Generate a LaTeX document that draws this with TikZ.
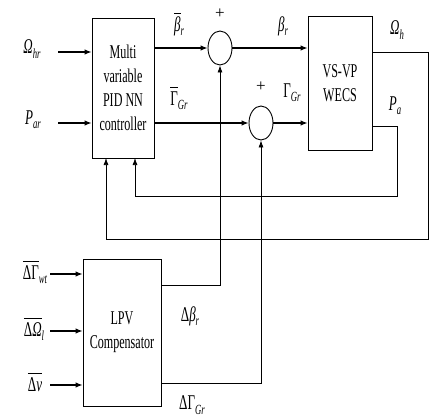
\documentclass[tikz,border=0pt]{standalone}
\usepackage{fontspec}
\setmainfont{Liberation Serif}[FakeStretch=0.62]
\newfontfamily\plusfont{Liberation Serif}
\usetikzlibrary{arrows.meta,shapes.geometric,calc}
\newcommand{\sbs}[1]{\raisebox{-0.45ex}{\fontsize{14}{14}\selectfont\itshape #1}}
\newcommand{\ob}[1]{$\overline{\hbox{\rule{0pt}{0.82em}#1}}$}
\begin{document}
\begin{tikzpicture}[x=1pt,y=-1pt,
  blk/.style={draw,line width=0.9pt,inner sep=0pt,align=center,font=\fontsize{19.5}{24}\selectfont},
  sumnode/.style={draw,line width=0.9pt,ellipse,minimum width=24pt,minimum height=34pt,inner sep=0pt},
  sig/.style={line width=1.1pt,-{Latex[length=7pt,width=5.5pt]}},
  fb/.style={line width=0.75pt,-{Latex[length=7pt,width=5pt]}},
  lab/.style={inner sep=0pt,font=\fontsize{21}{21}\selectfont\itshape},
  plus/.style={inner sep=0pt,font=\plusfont\fontsize{17}{17}\selectfont}]
\useasboundingbox (0,0) rectangle (437,420);
% blocks
\node[blk,minimum width=62pt,minimum height=140pt] (ctrl) at (123,88) {Multi\\variable\\PID NN\\controller};
\node[blk,minimum width=64pt,minimum height=134pt] (wecs) at (340,83) {VS-VP\\WECS};
\node[blk,minimum width=78pt,minimum height=147pt] (lpv) at (122,332.5) {LPV\\Compensator};
\node[sumnode] (s1) at (220,48) {};
\node[sumnode] (s2) at (261,123) {};
% coordinates
\coordinate (iom) at (58,52);
\coordinate (ipa) at (58,123);
\coordinate (igw) at (50,274);
\coordinate (iol) at (50,331);
\coordinate (iv) at (50,385);
\coordinate (c1) at (428,52);
\coordinate (c2) at (428,239);
\coordinate (c3) at (397,126);
\coordinate (c4) at (397,196);
\coordinate (f1) at (106,158);
\coordinate (f2) at (135,158);
\coordinate (d1) at (0,285);
\coordinate (d2) at (0,383);
% inputs
\draw[sig] (iom) -- (iom -| ctrl.west);
\draw[sig] (ipa) -- (ipa -| ctrl.west);
\draw[sig] (igw) -- (igw -| lpv.west);
\draw[sig] (iol) -- (iol -| lpv.west);
\draw[sig] (iv) -- (iv -| lpv.west);
% forward paths
\draw[sig] (s1.west -| ctrl.east) -- (s1.west);
\draw[sig] (s1.east) -- (s1.east -| wecs.west);
\draw[sig] (s2.west -| ctrl.east) -- (s2.west);
\draw[sig] (s2.east) -- (s2.east -| wecs.west);
% feedback
\draw[fb] (c1 -| wecs.east) -- (c1) -- (c2) -- (f1 |- c2) -- (f1);
\draw[fb] (c3 -| wecs.east) -- (c3) -- (c4) -- (f2 |- c4) -- (f2);
% compensator outputs
\draw[fb] (lpv.east |- d1) -- (s1.south |- d1) -- (s1.south);
\draw[fb] (lpv.east |- d2) -- (s2.south |- d2) -- (s2.south);
% labels
\node[lab] (lom) at (32,49) {Ω\sbs{hr}};
\node[lab] (lpa) at (33,120) {P\sbs{ar}};
\node[lab] (lbb) at (179,24) {\ob{β}\sbs{r}};
\node[lab] (lgb) at (179,98) {\upshape\ob{Γ}\sbs{Gr}};
\node[plus] (p1) at (220,14) {+};
\node[plus] (p2) at (261,87) {+};
\node[lab] (lbr) at (283,26) {β\sbs{r}};
\node[lab] (lgr) at (292,93) {\upshape Γ\sbs{Gr}};
\node[lab] (loh) at (397,30) {Ω\sbs{h}};
\node[lab] (lpo) at (395,106) {P\sbs{a}};
\node[lab] (lgw) at (35,272) {\upshape\ob{ΔΓ}\sbs{wt}};
\node[lab] (lol) at (34,329) {\ob{\upshape Δ\itshape Ω}\sbs{l}};
\node[lab] (lv) at (35,382) {\ob{\upshape Δ\itshape v}};
\node[lab] (ldb) at (190,316) {\upshape Δ\itshape β\sbs{r}};
\node[lab] (ldg) at (192,405) {\upshape ΔΓ\sbs{Gr}};
\end{tikzpicture}
\end{document}
